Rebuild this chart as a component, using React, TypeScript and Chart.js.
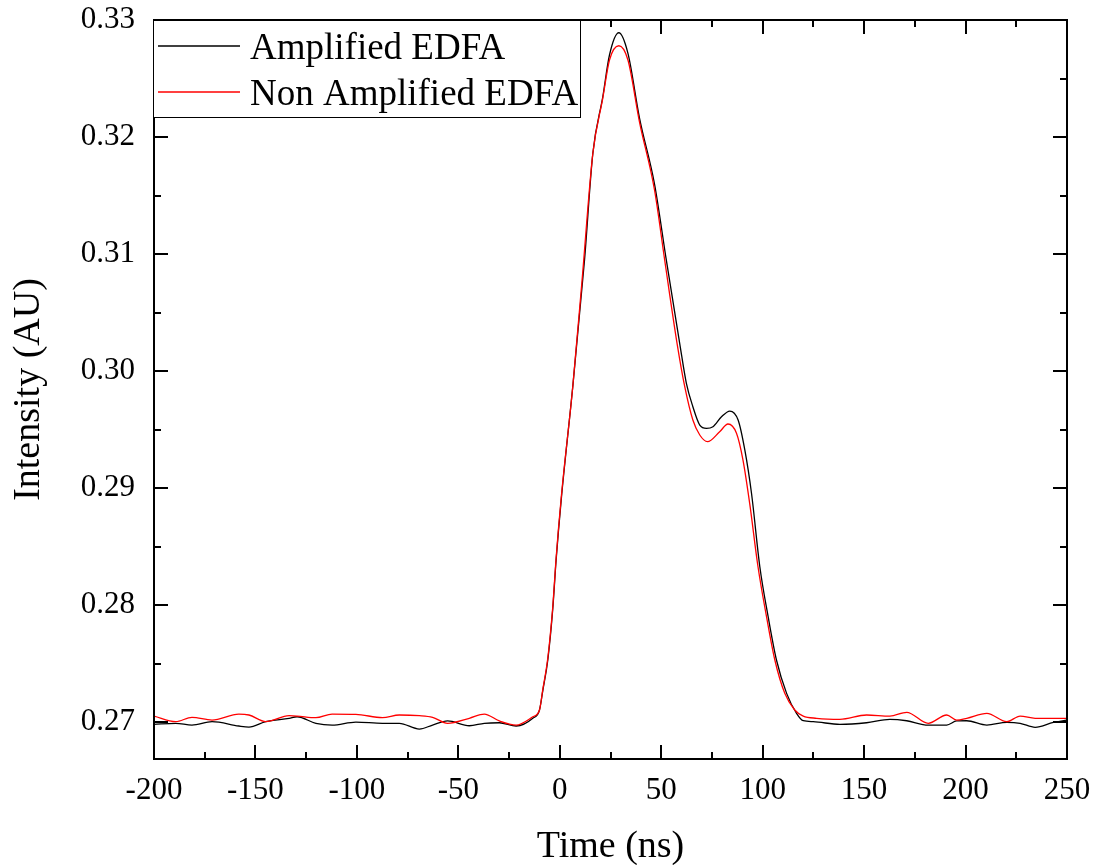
import React, { useEffect, useRef } from "react";
import { Chart, registerables } from "chart.js";

Chart.register(...registerables);

// ---- Data ----
const timeAmp = [
  -200, -189.3, -181.3, -171.4, -158.2, -153.2, -144.9, -133.4, -129.5, -120.2,
  -112.2, -100.5, -87.4, -79.1, -69.2, -62.7, -55.3, -44.6, -37.2, -29.8,
  -21.5, -13.3, -10, -8.4, -5.9, -3.5, -1.8, 0.7, 6.4, 12.2,
  16.3, 21.2, 24.5, 29.1, 33.6, 39.3, 46.7, 52.5, 59.1, 62.4,
  65.6, 69, 72.3, 75.5, 79.7, 83.8, 87.9, 91.2, 94.5, 98.6,
  102.7, 106.8, 111.8, 116.7, 120, 124.9, 138.1, 151.2, 162.7, 171,
  181.6, 190.7, 195.6, 200.6, 210.5, 220.3, 226.9, 234.3, 243.3, 250,
];
const ampValues = [
  0.2698, 0.26989, 0.26974, 0.27003, 0.26966, 0.26957, 0.27003, 0.27032, 0.27045, 0.26989,
  0.26974, 0.27, 0.26989, 0.26989, 0.2694, 0.26974, 0.27009, 0.26968, 0.26989, 0.26994,
  0.26966, 0.27032, 0.27103, 0.27265, 0.2753, 0.27957, 0.28385, 0.28897, 0.29866, 0.30949,
  0.31861, 0.32344, 0.32701, 0.32891, 0.32715, 0.32162, 0.31598, 0.30949, 0.30237, 0.29895,
  0.29695, 0.29538, 0.2951, 0.29524, 0.29609, 0.29658, 0.29581, 0.29325, 0.28955, 0.28327,
  0.279, 0.2753, 0.27245, 0.27074, 0.27011, 0.27003, 0.2698, 0.26994, 0.27023, 0.27011,
  0.26974, 0.26974, 0.27009, 0.27011, 0.26974, 0.26997, 0.26989, 0.26955, 0.26997, 0.27017,
];

const timeNon = [
  -200, -189.3, -181.3, -171.4, -158.2, -153.2, -144.9, -133.4, -129.5, -120.2,
  -112.2, -100.5, -87.4, -79.1, -69.2, -62.7, -55.3, -44.6, -37.2, -29.8,
  -21.5, -13.3, -10, -8.4, -5.9, -3.5, -1.8, 0.7, 6.4, 11.0,
  16.3, 21.2, 24.5, 29.1, 33.6, 39.3, 46.7, 51.7, 57.8, 61.6,
  65.6, 69, 72.8, 78.8, 82.9, 87.1, 90.3, 93.6, 97.7, 101.9,
  106, 110.9, 115.8, 120, 126.6, 138.1, 151.2, 162.7, 171, 181.6,
  190.7, 195.6, 200.6, 210.5, 220.3, 226.9, 234.3, 243.3, 250,
];
const nonAmpValues = [
  0.27051, 0.27003, 0.2704, 0.27017, 0.27068, 0.2706, 0.27003, 0.27054, 0.27051, 0.27037,
  0.27068, 0.27066, 0.27037, 0.2706, 0.27054, 0.2704, 0.26989, 0.27032, 0.27068, 0.27009,
  0.26974, 0.27045, 0.27103, 0.27274, 0.27547, 0.27974, 0.28402, 0.28915, 0.29866, 0.30778,
  0.31861, 0.32333, 0.32658, 0.3278, 0.32658, 0.32128, 0.31547, 0.30949, 0.30237, 0.29866,
  0.29581, 0.29453, 0.29396, 0.29481, 0.29547, 0.29468, 0.29239, 0.28869, 0.28327, 0.279,
  0.2753, 0.27245, 0.27103, 0.27051, 0.27032, 0.27023, 0.2706, 0.27051, 0.27083, 0.26989,
  0.2706, 0.27017, 0.27032, 0.27074, 0.27003, 0.27051, 0.27032, 0.27032, 0.27032,
];

const xTickValues = [-200, -150, -100, -50, 0, 50, 100, 150, 200, 250];
const yTickValues = [0.27, 0.28, 0.29, 0.3, 0.31, 0.32, 0.33];

const seriesLabels = ["Amplified EDFA", "Non Amplified EDFA"];
const seriesColors = ["#000000", "#ff0000"];

const FONT = '"Liberation Serif", "Times New Roman", serif';

function midpoints(arr: number[]) {
  const out: number[] = [];
  for (let i = 0; i < arr.length - 1; i++) out.push((arr[i] + arr[i + 1]) / 2);
  return out;
}

const framePlugin = {
  id: "frameTicksLegend",
  afterDraw(chart: any) {
    const { ctx, chartArea: a, scales } = chart;
    const xs = scales.x;
    const ys = scales.y;
    ctx.save();
    ctx.strokeStyle = "#000";
    ctx.lineWidth = 2;
    ctx.lineCap = "butt";
    const tick = (x1: number, y1: number, x2: number, y2: number) => {
      ctx.beginPath();
      ctx.moveTo(x1, y1);
      ctx.lineTo(x2, y2);
      ctx.stroke();
    };
    const major = 14;
    const minor = 7;
    xTickValues.forEach((v) => {
      const px = Math.round(xs.getPixelForValue(v));
      tick(px, a.bottom, px, a.bottom - major);
      tick(px, a.top, px, a.top + major);
    });
    midpoints(xTickValues).forEach((v) => {
      const px = Math.round(xs.getPixelForValue(v));
      tick(px, a.bottom, px, a.bottom - minor);
      tick(px, a.top, px, a.top + minor);
    });
    yTickValues.forEach((v) => {
      const py = Math.round(ys.getPixelForValue(v));
      tick(a.left, py, a.left + major, py);
      tick(a.right, py, a.right - major, py);
    });
    midpoints(yTickValues).forEach((v) => {
      const py = Math.round(ys.getPixelForValue(v));
      tick(a.left, py, a.left + minor, py);
      tick(a.right, py, a.right - minor, py);
    });
    ctx.strokeRect(a.left, a.top, a.right - a.left, a.bottom - a.top);

    // legend box
    const bx = a.left - 1;
    const by = a.top;
    const bw = 427;
    const bh = 97;
    ctx.fillStyle = "#fff";
    ctx.fillRect(bx, by, bw, bh);
    ctx.lineWidth = 1;
    ctx.strokeStyle = "#000";
    ctx.strokeRect(bx + 0.5, by + 0.5, bw, bh);
    ctx.font = `37px ${FONT}`;
    ctx.textBaseline = "alphabetic";
    ctx.textAlign = "left";
    const rows = [26, 72];
    seriesLabels.forEach((lab, i) => {
      const ly = by + rows[i];
      ctx.strokeStyle = seriesColors[i];
      ctx.lineWidth = 1.3;
      ctx.beginPath();
      ctx.moveTo(bx + 5, ly);
      ctx.lineTo(bx + 87, ly);
      ctx.stroke();
      ctx.fillStyle = "#000";
      ctx.fillText(lab, bx + 97, ly + 12.5);
    });
    ctx.restore();
  },
};

export default function App() {
  const ref = useRef<HTMLCanvasElement | null>(null);
  useEffect(() => {
    if (!ref.current) return;
    const chart = new Chart(ref.current, {
      type: "line",
      data: {
        datasets: [
          {
            label: seriesLabels[1],
            data: timeNon.map((t, i) => ({ x: t, y: nonAmpValues[i] })),
            borderColor: seriesColors[1],
            backgroundColor: seriesColors[1],
            borderWidth: 1.3,
            pointRadius: 0,
            cubicInterpolationMode: "monotone",
            order: 0,
          },
          {
            label: seriesLabels[0],
            data: timeAmp.map((t, i) => ({ x: t, y: ampValues[i] })),
            borderColor: seriesColors[0],
            backgroundColor: seriesColors[0],
            borderWidth: 1.3,
            pointRadius: 0,
            cubicInterpolationMode: "monotone",
            order: 1,
          },
        ],
      },
      options: {
        responsive: false,
        animation: false,
        events: [],
        layout: { padding: { top: 20, right: 38, left: 0, bottom: 0 } },
        plugins: { legend: { display: false }, tooltip: { enabled: false } },
        scales: {
          x: {
            type: "linear",
            min: -200,
            max: 250,
            grid: { display: false, drawTicks: false },
            border: { display: false },
            afterBuildTicks: (s: any) => {
              s.ticks = xTickValues.map((v) => ({ value: v }));
            },
            afterFit: (s: any) => {
              s.height = 106;
              s.paddingLeft = 0;
              s.paddingRight = 0;
            },
            ticks: {
              color: "#000",
              padding: 13,
              maxRotation: 0,
              autoSkip: false,
              font: { family: FONT, size: 31 },
              callback: (v: any) => String(v),
            },
            title: {
              display: true,
              text: "Time (ns)",
              color: "#000",
              font: { family: FONT, size: 38, lineHeight: 1 },
              padding: { top: 0, bottom: -1 },
            },
          },
          y: {
            type: "linear",
            min: 0.26684,
            max: 0.33,
            grid: { display: false, drawTicks: false },
            border: { display: false },
            afterBuildTicks: (s: any) => {
              s.ticks = yTickValues.map((v) => ({ value: v }));
            },
            afterFit: (s: any) => {
              s.width = 154;
              s.paddingTop = 0;
              s.paddingBottom = 0;
            },
            ticks: {
              color: "#000",
              padding: 19,
              autoSkip: false,
              font: { family: FONT, size: 31 },
              callback: (v: any) => Number(v).toFixed(2),
            },
            title: {
              display: true,
              text: "Intensity (AU)",
              color: "#000",
              font: { family: FONT, size: 38, lineHeight: 1 },
              padding: { top: 10, bottom: 0 },
            },
          },
        },
      },
      plugins: [framePlugin],
    });
    return () => chart.destroy();
  }, []);
  return (
    <div style={{ position: "fixed", left: 0, top: 0, width: 1105, height: 865, background: "#fff" }}>
      <canvas ref={ref} width={1105} height={865} />
    </div>
  );
}
